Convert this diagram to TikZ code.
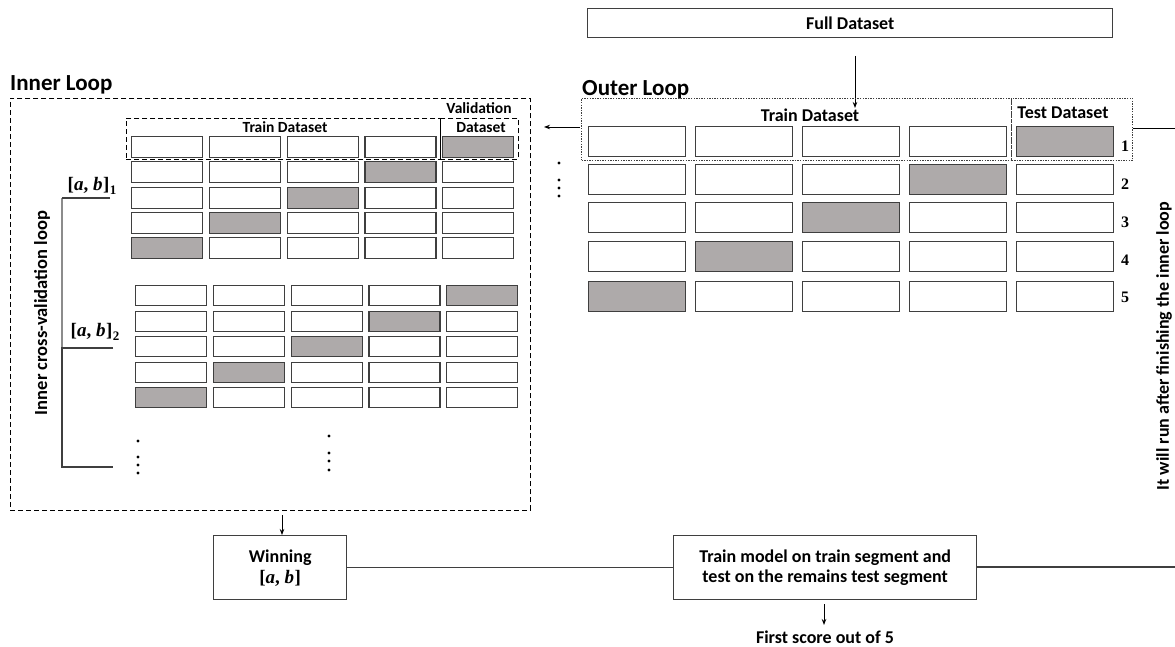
\documentclass[tikz,border=0pt]{standalone}
\usepackage{fontspec}
\setmainfont{Carlito}
\newfontfamily\numfont{Liberation Serif}
\usetikzlibrary{arrows.meta,calc}
\definecolor{cellgray}{HTML}{AEAAAA}
\definecolor{edge}{HTML}{3F3F3F}
\definecolor{brk}{HTML}{8C8C8C}
\newcommand\abpair{{\numfont\bfseries[\textit{a}, \textit{b}\kern0.5pt]}}
\newcommand\abidx[1]{{\numfont\bfseries[\textit{a}, \textit{b}\kern0.5pt]\kern0.5pt\raisebox{-3.5pt}{\fontsize{13}{13}\selectfont #1}}}
\begin{document}
\begin{tikzpicture}[x=1pt,y=-1pt,
  cell/.style={draw=edge,line width=1.4pt,fill=white,inner sep=0pt,anchor=north west},
  gcell/.style={cell,fill=cellgray},
  dashbox/.style={draw=black,dash pattern=on 5pt off 3pt,line width=0.9pt,inner sep=0pt,anchor=north west},
  dotbox/.style={draw=edge,dash pattern=on 1.4pt off 1.2pt,line width=1pt,inner sep=0pt,anchor=north west},
  lbl/.style={font=\fontsize{18}{20}\selectfont\bfseries,inner sep=0pt},
  slbl/.style={font=\fontsize{15.5}{17}\selectfont\bfseries,inner sep=0pt},
  ttl/.style={font=\fontsize{23}{25}\selectfont\bfseries,inner sep=0pt},
  num/.style={font=\numfont\bfseries\fontsize{16}{16}\selectfont,inner sep=0pt},
  mth/.style={font=\fontsize{19}{21}\selectfont,inner sep=0pt},
  arr/.style={draw=black,line width=0.9pt,-{Stealth[length=6pt,width=4.5pt]}},
  conn/.style={draw=edge,line width=1.4pt},
  blob/.style={fill=black}]
\useasboundingbox[fill=white] (0,0) rectangle (1175,647);

% ---------- Full dataset ----------
\node[cell,minimum width=525pt,minimum height=29pt,lbl] (full) at (587,8) {Full Dataset};
\coordinate (fa) at (855,56);
\coordinate (fb) at (855,108);
\draw[arr] (fa) -- (fb);

% ---------- Outer loop ----------
\node[ttl,anchor=base west] (outerttl) at (582,96) {Outer Loop};
\foreach \r/\t in {1/126,2/164,3/202,4/241,5/281}{
  \foreach \c in {1,...,5}{
    \pgfmathsetmacro\xx{588+107*(\c-1)}
    \pgfmathtruncatemacro\g{6-\r}
    \ifnum\c=\g
      \node[gcell,minimum width=97pt,minimum height=30pt] (o-\r-\c) at (\xx,\t) {};
    \else
      \node[cell,minimum width=97pt,minimum height=30pt] (o-\r-\c) at (\xx,\t) {};
    \fi
  }
}
\node[dotbox,minimum width=430pt,minimum height=62pt] (otrain) at (581,98) {};
\node[dotbox,minimum width=121pt,minimum height=62pt] (otest) at (1011,98) {};
\node[lbl] (otrainl) at (810,115) {Train Dataset};
\node[lbl] (otestl) at (1063,113) {Test Dataset};
\node[num] (n1) at (1125,146) {1};
\node[num] (n2) at (1125,184) {2};
\node[num] (n3) at (1125,222) {3};
\node[num] (n4) at (1125,260) {4};
\node[num] (n5) at (1125,297) {5};
\coordinate (la) at (580,127);
\coordinate (lb) at (544,127);
\draw[arr] (la) -- (lb);
\fill[blob] (559,163) circle (1.6);
\fill[blob] (559,180) circle (1.6);
\fill[blob] (559,188) circle (1.6);
\fill[blob] (559,196) circle (1.6);
\coordinate (rr) at (1175,129);
\draw[draw=black,line width=1pt] (otest.east |- rr) -- (rr);

% ---------- Inner loop ----------
\node[ttl,anchor=base west] (innerttl) at (10,91) {Inner Loop};
\node[dashbox,minimum width=520pt,minimum height=412pt] (inner) at (10,98) {};
\foreach \r/\t in {1/136,2/161,3/187,4/212,5/237}{
  \foreach \c in {1,...,5}{
    \pgfmathsetmacro\xx{131+77.75*(\c-1)}
    \pgfmathtruncatemacro\g{6-\r}
    \ifnum\c=\g
      \node[gcell,minimum width=71pt,minimum height=21pt] (a-\r-\c) at (\xx,\t) {};
    \else
      \node[cell,minimum width=71pt,minimum height=21pt] (a-\r-\c) at (\xx,\t) {};
    \fi
  }
}
\foreach \r/\t in {1/285,2/311,3/336,4/362,5/387}{
  \foreach \c in {1,...,5}{
    \pgfmathsetmacro\xx{135+77.75*(\c-1)}
    \pgfmathtruncatemacro\g{6-\r}
    \ifnum\c=\g
      \node[gcell,minimum width=71pt,minimum height=20pt] (b-\r-\c) at (\xx,\t) {};
    \else
      \node[cell,minimum width=71pt,minimum height=20pt] (b-\r-\c) at (\xx,\t) {};
    \fi
  }
}
\node[dashbox,minimum width=314pt,minimum height=41pt] (itrain) at (126,118) {};
\node[dashbox,minimum width=78pt,minimum height=41pt] (ival) at (440,118) {};
\node[slbl] (itrainl) at (285,127) {Train Dataset};
\node[slbl] (ivall1) at (479,108) {Validation};
\node[slbl] (ivall2) at (481,128) {Dataset};

% dots
\fill[blob] (138,441) circle (1.6);
\fill[blob] (138,457) circle (1.6);
\fill[blob] (138,465) circle (1.6);
\fill[blob] (138,473) circle (1.6);
\fill[blob] (329,436) circle (1.6);
\fill[blob] (329,453) circle (1.6);
\fill[blob] (329,461) circle (1.6);
\fill[blob] (329,470) circle (1.6);

% bracket
\coordinate (k1) at (110,198);
\coordinate (k0) at (62,198);
\coordinate (km) at (62,348);
\coordinate (km2) at (113,348);
\coordinate (kb) at (62,467);
\coordinate (kb2) at (113,467);
\draw[draw=brk,line width=1.3pt] (k0) -- (km);
\draw[conn] (k1) -- (k0);
\draw[conn] (km2) -- (km) -- (kb) -- (kb2);
\node[mth] (ab1) at (92,186) {\abidx{1}};
\node[mth] (ab2) at (95,332) {\abidx{2}};
\node[lbl,font=\fontsize{18.5}{20}\selectfont\bfseries,rotate=90] (icv) at (42,313) {Inner cross-validation loop};

% ---------- bottom ----------
\node[cell,minimum width=133pt,minimum height=64pt,align=center,lbl] (win) at (213,535) {Winning\\[1pt]{\fontsize{19}{21}\selectfont\abpair}};
\node[cell,minimum width=303pt,minimum height=64pt,align=center,lbl] (tm) at (673,535) {Train model on train segment and\\test on the remains test segment};
\coordinate (wa) at (282,515);
\draw[arr] (wa) -- (wa |- win.north);
\draw[conn] (win.east) -- (tm.west);
\coordinate (re) at (1175,567);
\draw[conn] (tm.east |- re) -- (re);
\node[lbl] (score) at (825,637) {First score out of 5};
\coordinate (sa) at (824,604);
\coordinate (sb) at (824,625);
\draw[arr] (sa) -- (sb);
\node[lbl,rotate=90] (run) at (1164,346) {It will run after finishing the inner loop};
\end{tikzpicture}
\end{document}
